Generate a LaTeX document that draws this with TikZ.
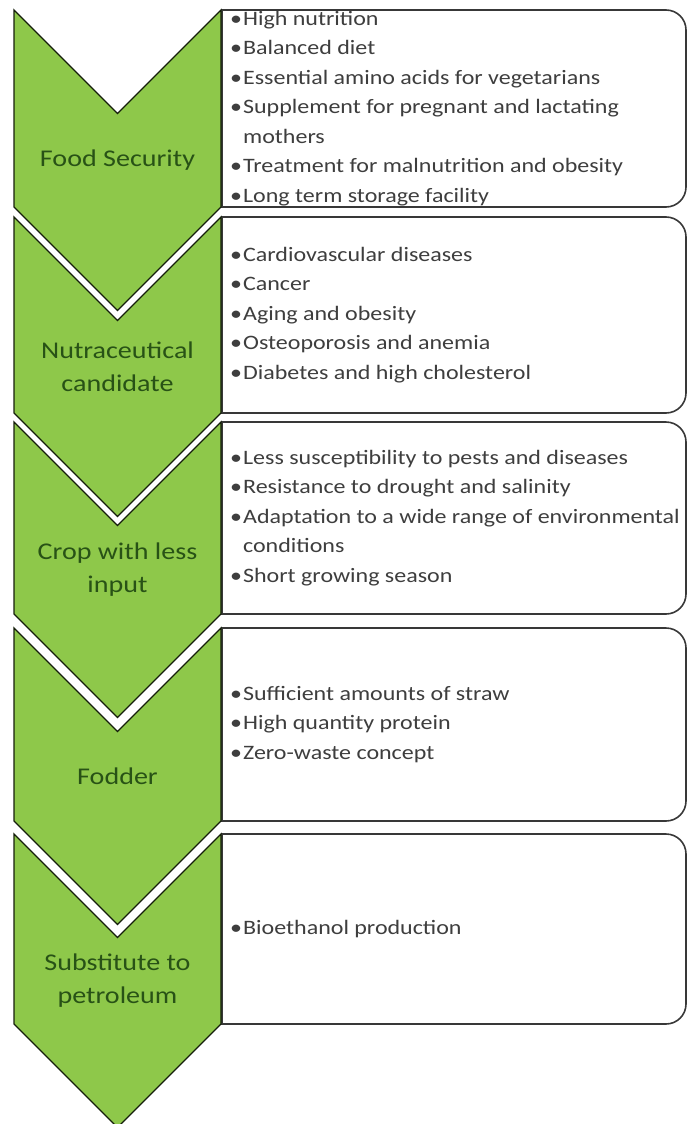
\documentclass[tikz,border=0pt]{standalone}
\usepackage{fontspec}
\setmainfont{Carlito}[FakeStretch=1.17]
\usepackage{tikz}

\definecolor{leafgreen}{RGB}{142,200,74}
\definecolor{leafdark}{RGB}{40,82,22}
\definecolor{itemgray}{RGB}{62,62,62}

\tikzset{
	chevron/.style={fill=leafgreen,draw=black!85!leafgreen,line width=1.3pt},
	infobox/.style={fill=white,draw=black!78,line width=1.6pt},
	chevlabel/.style={text=leafdark,font=\fontsize{24}{33}\selectfont,align=center},
	itemlist/.style={text=itemgray,font=\fontsize{20.5}{29.5}\selectfont,align=left,anchor=west,inner sep=0pt},
}
\newcommand{\itm}{\textbullet\kern1pt}
\newcommand{\cnt}{\hphantom{\itm}}

\begin{document}
\begin{tikzpicture}[x=1pt,y=1pt]
		\useasboundingbox (0,0) rectangle (688,-1124);
		\foreach \n/\tp/\bt/\lbl/\items in {
			1/10/207/{Food Security}/{\itm High nutrition\\\itm Balanced diet\\\itm Essential amino acids for vegetarians\\\itm Supplement for pregnant and lactating\\\cnt mothers\\\itm Treatment for malnutrition and obesity\\\itm Long term storage facility},
			2/217/413/{Nutraceutical\\candidate}/{\itm Cardiovascular diseases\\\itm Cancer\\\itm Aging and obesity\\\itm Osteoporosis and anemia\\\itm Diabetes and high cholesterol},
			3/422/614/{Crop with less\\input}/{\itm Less susceptibility to pests and diseases\\\itm Resistance to drought and salinity\\\itm Adaptation to a wide range of environmental\\\cnt conditions\\\itm Short growing season},
			4/628/821/{Fodder}/{\itm Sufficient amounts of straw\\\itm High quantity protein\\\itm Zero-waste concept},
			5/834/1024/{Substitute to\\petroleum}/{\itm Bioethanol production}}{
			\draw[infobox] (222,-\tp) -- (666,-\tp) arc[start angle=90,end angle=0,radius=20]
				-- (686,-\bt+20) arc[start angle=0,end angle=-90,radius=20] -- (222,-\bt) -- cycle;
			\draw[chevron] (14,-\tp) -- (117.5,-\tp-103.5) -- (221,-\tp) -- (221,-\bt)
				-- (117.5,-\bt-103.5) -- (14,-\bt) -- cycle;
			\node[chevlabel] (chev\n) at (117.5,{-(\tp+\bt+103.5)/2}) {\lbl};
			\node[itemlist] (box\n) at (230,{-(\tp+\bt)/2}) {\items};
		};
	\end{tikzpicture}
\end{document}
